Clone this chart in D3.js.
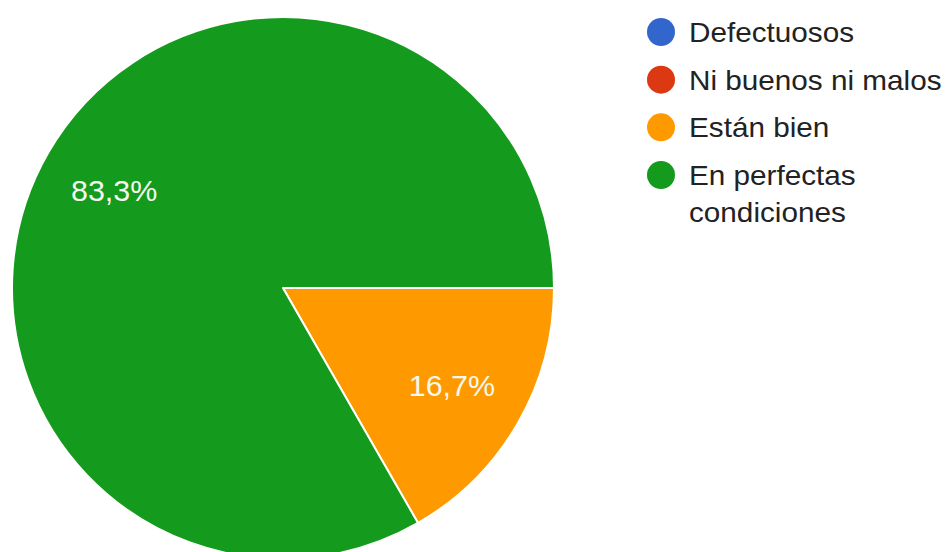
<!DOCTYPE html>
<html>
<head>
<meta charset="utf-8">
<script src="https://cdn.jsdelivr.net/npm/d3@7"></script>
<style>
  html, body { margin: 0; padding: 0; background: #fff; }
  svg { display: block; }
</style>
</head>
<body>
<svg id="chart" width="948" height="552"></svg>
<script>
// Survey answers and their share of responses (%)
const categories = ["Defectuosos", "Ni buenos ni malos", "Están bien", "En perfectas condiciones"];
const values = [0, 0, 16.7, 83.3];
const colors = ["#3366cc", "#dc3912", "#ff9900", "#149a1d"];
// Legend labels, broken into lines
const legendLines = [["Defectuosos"], ["Ni buenos ni malos"], ["Están bien"], ["En perfectas", "condiciones"]];

const svg = d3.select("#chart");
const font = "'Liberation Sans', Arial, sans-serif";

const cx = 283, cy = 288, r = 271;

const pie = d3.pie().sort(null).value(d => d.value)
  .startAngle(Math.PI / 2).endAngle(Math.PI / 2 + 2 * Math.PI);

const data = categories.map((c, i) => ({ name: c, value: values[i], color: colors[i] }));
const arcs = pie(data).filter(a => a.data.value > 0);

const arc = d3.arc().innerRadius(0).outerRadius(r);
const labelArc = d3.arc().innerRadius(r * 0.72).outerRadius(r * 0.72);

const g = svg.append("g").attr("transform", `translate(${cx},${cy})`);

g.selectAll("path.slice")
  .data(arcs)
  .join("path")
  .attr("class", "slice")
  .attr("d", arc)
  .attr("fill", d => d.data.color)
  .attr("stroke", "#ffffff")
  .attr("stroke-width", 2)
  .attr("stroke-linejoin", "round");

const fmt = v => v.toFixed(1).replace(".", ",") + "%";

g.selectAll("text.pct")
  .data(arcs)
  .join("text")
  .attr("class", "pct")
  .attr("transform", d => `translate(${labelArc.centroid(d)}) scale(1.05,1)`)
  .attr("text-anchor", "middle")
  .attr("dy", "0.36em")
  .attr("fill", "#f4f8ee")
  .style("font-family", font)
  .style("font-size", "29px")
  .text(d => fmt(d.data.value));

// Legend
const legend = svg.append("g").attr("transform", "translate(661,32)");
const rowY = [0, 47.7, 95.3, 143];
const item = legend.selectAll("g.item")
  .data(data)
  .join("g")
  .attr("class", "item")
  .attr("transform", (d, i) => `translate(0,${rowY[i]})`);

item.append("circle")
  .attr("r", 14)
  .attr("fill", d => d.color);

item.append("text")
  .attr("transform", "translate(28,0) scale(1.1,1)")
  .attr("fill", "#222222")
  .style("font-family", font)
  .style("font-size", "27px")
  .selectAll("tspan")
  .data((d, i) => legendLines[i])
  .join("tspan")
  .attr("x", 0)
  .attr("dy", (l, j) => j === 0 ? "0.37em" : "1.37em")
  .text(l => l);
</script>
</body>
</html>
